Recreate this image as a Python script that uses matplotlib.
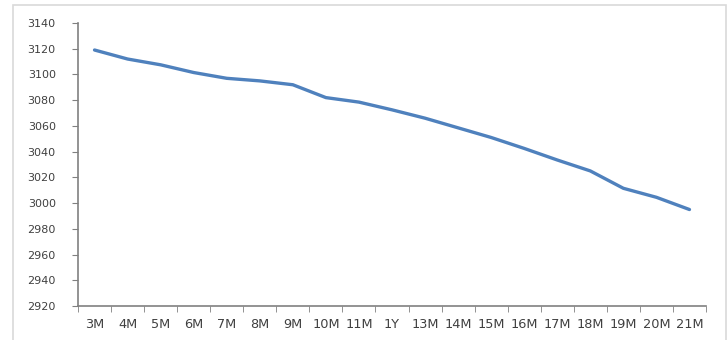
import matplotlib.pyplot as plt
from matplotlib.patches import Rectangle

# tenor labels and price curve
tenors = ['3M', '4M', '5M', '6M', '7M', '8M', '9M', '10M', '11M', '1Y',
          '13M', '14M', '15M', '16M', '17M', '18M', '19M', '20M', '21M']
prices = [3119, 3112, 3107.5, 3101.5, 3097, 3095, 3092, 3082, 3078.5, 3072.5,
          3066, 3058.5, 3051, 3042.5, 3033.5, 3025, 3011.5, 3004.5, 2995]
yticks = list(range(2920, 3141, 20))

fig = plt.figure(figsize=(7.28, 3.40), dpi=100)
fig.patches.append(Rectangle((13 / 728, -0.02), 713 / 728, 1 - 5 / 340 + 0.02,
                             transform=fig.transFigure, fill=False,
                             edgecolor='#d9d9d9', linewidth=1.2))

ax = fig.add_axes([78 / 728, 1 - 306 / 340, 628 / 728, 283 / 340])
x = list(range(len(tenors)))
ax.plot(x, prices, color='#4f81bd', linewidth=2.4, solid_capstyle='round')

ax.set_xlim(-0.5, len(tenors) - 0.5)
ax.set_ylim(2920, 3140)
ax.set_yticks(yticks)
ax.set_xticks(x)
ax.set_xticklabels(tenors)
# tick marks sit between categories on the x axis
ax.set_xticks([i - 0.5 for i in range(len(tenors) + 1)], minor=True)
ax.tick_params(axis='x', which='major', length=0, pad=9, labelsize=9.3)
ax.tick_params(axis='x', which='minor', length=4, direction='out', color='#808080')
ax.tick_params(axis='y', length=4, direction='out', color='#808080', pad=12,
               labelsize=8)
ax.tick_params(labelcolor='#404040')

for side in ['top', 'right']:
    ax.spines[side].set_visible(False)
for side in ['left', 'bottom']:
    ax.spines[side].set_color('#808080')
    ax.spines[side].set_linewidth(1.2)

plt.savefig('out.png', dpi=100)
